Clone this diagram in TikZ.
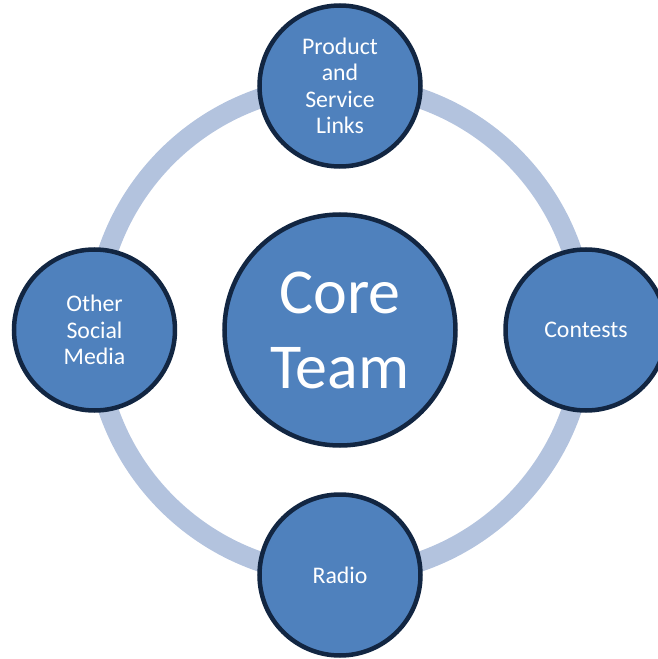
\documentclass[tikz,border=0pt]{standalone}
\usepackage{fontspec}
\setmainfont{Carlito}
\definecolor{hubblue}{RGB}{79,129,189}
\definecolor{hubedge}{RGB}{18,38,66}
\definecolor{ringblue}{RGB}{179,195,222}
\begin{document}
\begin{tikzpicture}[x=1pt, y=1pt,
    ring/.style={draw=ringblue, line width=20pt},
    corebubble/.style={circle, fill=hubblue, draw=hubedge, line width=4.5pt, minimum size=231pt,
      text=white, align=center, font=\fontsize{64}{75}\selectfont},
    bubble/.style={circle, fill=hubblue, draw=hubedge, line width=4.5pt, minimum size=161pt,
      text=white, align=center, font=\fontsize{23.8}{26.5}\selectfont}]
      \useasboundingbox (-340,-329) rectangle (318,330); % page size
      \coordinate (hub) at (0,0);
      \draw[ring] (hub) circle (245);
      \node[corebubble] (core) at (hub) {Core\\Team};
      \node[bubble] (links) at (0,244) {Product\\and\\Service\\Links};
      \node[bubble] (contests) at (246,0) {Contests};
      \node[bubble] (radio) at (0,-245) {Radio};
      \node[bubble] (social) at (-245.5,0) {Other\\Social\\Media};
  \end{tikzpicture}
\end{document}
